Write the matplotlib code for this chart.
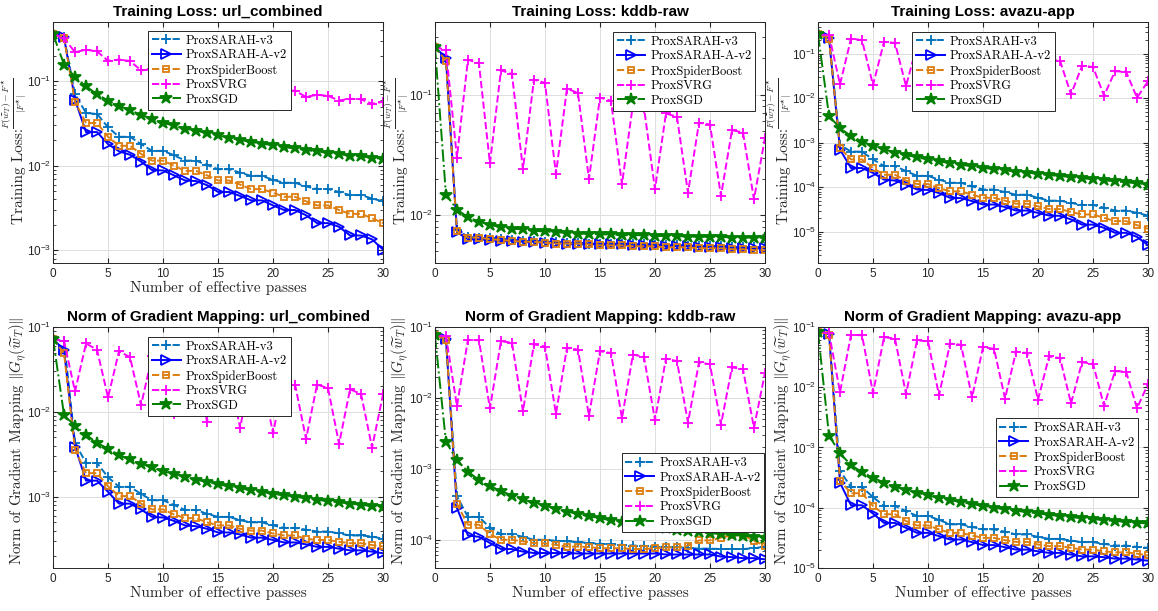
import numpy as np
import matplotlib
matplotlib.use("Agg")
import matplotlib.pyplot as plt

plt.rcParams['font.family'] = ['Liberation Sans', 'DejaVu Sans']
plt.rcParams['mathtext.fontset'] = 'cm'

#Number of effective passes (shared x axis)
passes = list(range(31))
methods = ["ProxSARAH-v3", "ProxSARAH-A-v2", "ProxSpiderBoost", "ProxSVRG", "ProxSGD"]

#Training loss: url_combined
url_loss_v3 = [0.36, 0.33, 0.07, 0.042, 0.041, 0.0285, 0.022, 0.022, 0.018, 0.015, 0.015, 0.0133, 0.0115, 0.0115, 0.0102, 0.0091,
               0.0091, 0.0083, 0.0076, 0.0076, 0.0068, 0.0063, 0.0063, 0.0057, 0.0053, 0.0053, 0.0049, 0.0045, 0.0045, 0.0041, 0.0038]
url_loss_av2 = [0.36, 0.33, 0.06, 0.025, 0.025, 0.018, 0.0148, 0.0135, 0.0112, 0.0089, 0.0088, 0.0077, 0.0067, 0.0066, 0.0059, 0.0049,
                0.0049, 0.0044, 0.0039, 0.0039, 0.0034, 0.0030, 0.0030, 0.0026, 0.0021, 0.0021, 0.0019, 0.0015, 0.0015, 0.00135, 0.00102]
url_loss_spider = [0.36, 0.32, 0.057, 0.032, 0.032, 0.022, 0.0172, 0.0172, 0.0138, 0.0115, 0.0115, 0.0100, 0.0087, 0.0087, 0.0077, 0.0067,
                   0.0067, 0.0060, 0.0053, 0.0053, 0.0048, 0.0043, 0.0043, 0.0038, 0.0034, 0.0034, 0.0030, 0.0027, 0.0027, 0.0024, 0.0021]
url_loss_svrg = [0.36, 0.32, 0.22, 0.235, 0.225, 0.174, 0.18, 0.173, 0.134, 0.138, 0.136, 0.115, 0.118, 0.117, 0.100, 0.103,
                 0.102, 0.090, 0.092, 0.091, 0.075, 0.078, 0.077, 0.065, 0.069, 0.067, 0.059, 0.062, 0.061, 0.054, 0.057]
url_loss_sgd = [0.36, 0.157, 0.112, 0.087, 0.070, 0.059, 0.051, 0.0455, 0.040, 0.036, 0.032, 0.030, 0.0275, 0.026, 0.0243, 0.0228,
                0.0214, 0.0202, 0.0191, 0.0183, 0.0174, 0.0166, 0.016, 0.0153, 0.0148, 0.0142, 0.0137, 0.0132, 0.0129, 0.0124, 0.0121]

#Training loss: kddb-raw
kddb_loss_v3 = [0.25, 0.2, 0.0075, 0.0066, 0.0065, 0.0064, 0.0063, 0.0062, 0.0061, 0.0061, 0.0060, 0.0060, 0.0059, 0.0059, 0.0058, 0.0058,
                0.0058, 0.0057, 0.0057, 0.0057, 0.0056, 0.0056, 0.0056, 0.0055, 0.0055, 0.0055, 0.0055, 0.0054, 0.0054, 0.0054, 0.0054]
kddb_loss_av2 = [0.25, 0.2, 0.0072, 0.0063, 0.0063, 0.0062, 0.0061, 0.0061, 0.0060, 0.0060, 0.0059, 0.0059, 0.0058, 0.0058, 0.0058, 0.0057,
                 0.0057, 0.0057, 0.0056, 0.0056, 0.0056, 0.0055, 0.0055, 0.0055, 0.0054, 0.0054, 0.0054, 0.0053, 0.0053, 0.0053, 0.0053]
kddb_loss_spider = [0.25, 0.19, 0.0073, 0.0065, 0.0065, 0.0063, 0.0062, 0.0061, 0.0060, 0.0060, 0.0059, 0.0058, 0.0058, 0.0058, 0.0057, 0.0056,
                    0.0056, 0.0056, 0.0055, 0.0055, 0.0055, 0.0054, 0.0054, 0.0054, 0.0053, 0.0053, 0.0053, 0.0052, 0.0052, 0.0051, 0.0051]
kddb_loss_svrg = [0.25, 0.233, 0.030, 0.195, 0.181, 0.0268, 0.159, 0.148, 0.024, 0.133, 0.125, 0.0219, 0.112, 0.103, 0.0199, 0.0944,
                  0.0886, 0.018, 0.083, 0.078, 0.0164, 0.0697, 0.0653, 0.0153, 0.0582, 0.0564, 0.0144, 0.0506, 0.0484, 0.0135, 0.0437]
kddb_loss_sgd = [0.25, 0.0148, 0.0111, 0.0096, 0.0088, 0.0083, 0.0079, 0.0077, 0.0076, 0.0074, 0.0073, 0.0072, 0.0071, 0.0070, 0.0070, 0.0069,
                 0.0069, 0.0068, 0.0068, 0.0068, 0.0067, 0.0067, 0.0067, 0.0066, 0.0066, 0.0066, 0.0066, 0.0065, 0.0065, 0.0065, 0.0065]

#Training loss: avazu-app
avazu_loss_v3 = [0.27, 0.22, 0.0009, 0.00063, 0.00063, 0.00042, 0.0003, 0.0003, 0.00023, 0.00018, 0.00018, 0.000148, 0.000126, 0.000126,
                 0.000105, 0.000089, 0.000089, 0.000078, 0.000068, 0.000068, 0.000058, 0.00005, 0.00005, 0.0000445, 0.00004, 0.00004,
                 0.0000347, 0.00003, 0.00003, 0.0000266, 0.0000232]
avazu_loss_av2 = [0.27, 0.22, 0.0007, 0.00027, 0.00027, 0.00021, 0.000148, 0.000141, 0.000115, 0.000089, 0.000087, 0.000074, 0.000058,
                  0.000057, 0.000049, 0.000041, 0.000041, 0.000036, 0.00003, 0.00003, 0.0000266, 0.0000232, 0.0000228, 0.000019,
                  0.0000145, 0.0000145, 0.0000123, 0.0000095, 0.0000095, 0.0000077, 0.000005]
avazu_loss_spider = [0.27, 0.21, 0.00076, 0.00042, 0.00042, 0.00027, 0.00019, 0.00019, 0.000141, 0.000118, 0.000118, 0.000096, 0.000081,
                     0.000081, 0.000068, 0.000058, 0.000058, 0.00005, 0.0000428, 0.0000428, 0.0000372, 0.0000324, 0.0000324, 0.0000279,
                     0.0000245, 0.0000245, 0.0000206, 0.0000174, 0.0000174, 0.0000141, 0.0000117]
avazu_loss_svrg = [0.27, 0.26, 0.0203, 0.216, 0.2, 0.0196, 0.182, 0.173, 0.0186, 0.155, 0.148, 0.0178, 0.132, 0.125, 0.0168, 0.112,
                   0.105, 0.0158, 0.095, 0.089, 0.0148, 0.076, 0.0686, 0.0121, 0.053, 0.05, 0.0113, 0.04, 0.039, 0.0102, 0.024]
avazu_loss_sgd = [0.27, 0.004, 0.0021, 0.00142, 0.00106, 0.00085, 0.00072, 0.0006, 0.00053, 0.00047, 0.00042, 0.00038, 0.00035, 0.00032,
                  0.000295, 0.00027, 0.000257, 0.00024, 0.000225, 0.000213, 0.0002, 0.000188, 0.000178, 0.00017, 0.00016, 0.00015,
                  0.000143, 0.000136, 0.000129, 0.000123, 0.000115]

#Gradient mapping norm: url_combined
url_grad_v3 = [0.073, 0.068, 0.0043, 0.0025, 0.0025, 0.0017, 0.00131, 0.00131, 0.00108, 0.00091, 0.00091, 0.0008, 0.0007, 0.0007, 0.00063,
               0.00058, 0.00058, 0.00053, 0.0005, 0.0005, 0.00046, 0.00043, 0.00043, 0.00041, 0.00039, 0.00039, 0.00037, 0.00035,
               0.00035, 0.00034, 0.00032]
url_grad_av2 = [0.073, 0.053, 0.0039, 0.00155, 0.00155, 0.00114, 0.00083, 0.00083, 0.00071, 0.00058, 0.00057, 0.00052, 0.00046, 0.00045,
                0.00042, 0.00038, 0.00038, 0.00036, 0.00033, 0.00033, 0.00031, 0.00029, 0.00029, 0.000275, 0.000257, 0.000257,
                0.000245, 0.000234, 0.000234, 0.000226, 0.000216]
url_grad_spider = [0.073, 0.049, 0.0036, 0.0019, 0.0019, 0.00133, 0.00102, 0.00102, 0.00083, 0.00071, 0.00071, 0.00062, 0.00056, 0.00056,
                   0.0005, 0.00046, 0.00046, 0.00042, 0.0004, 0.0004, 0.00037, 0.00035, 0.00035, 0.00032, 0.00031, 0.00031, 0.000295,
                   0.000284, 0.000284, 0.00027, 0.00026]
url_grad_svrg = [0.073, 0.068, 0.0174, 0.064, 0.054, 0.0148, 0.052, 0.044, 0.012, 0.045, 0.038, 0.0095, 0.04, 0.033, 0.0077, 0.034,
                 0.029, 0.0065, 0.028, 0.024, 0.0056, 0.025, 0.021, 0.0048, 0.021, 0.019, 0.0042, 0.0185, 0.0162, 0.0038, 0.0162]
url_grad_sgd = [0.073, 0.0092, 0.0068, 0.0054, 0.0043, 0.0037, 0.0031, 0.00275, 0.00245, 0.00222, 0.002, 0.00186, 0.00171, 0.00159,
                0.0015, 0.0014, 0.00133, 0.00126, 0.00119, 0.00114, 0.00108, 0.00104, 0.001, 0.00096, 0.00092, 0.00089, 0.00086,
                0.00083, 0.0008, 0.00078, 0.00076]

#Gradient mapping norm: kddb-raw
kddb_grad_v3 = [0.076, 0.066, 0.00041, 0.00021, 0.00021, 0.000148, 0.00012, 0.00012, 0.00011, 0.0001, 0.0001, 0.000097, 0.000095,
                0.000093, 0.00009, 0.000088, 0.000086, 0.000085, 0.000083, 0.000082, 0.00008, 0.000079, 0.000078, 0.000077, 0.000075,
                0.000075, 0.000074, 0.000074, 0.000074, 0.000076, 0.00008]
kddb_grad_av2 = [0.076, 0.068, 0.00028, 0.000115, 0.00011, 0.00009, 0.000074, 0.000074, 0.000068, 0.000065, 0.000065, 0.000065,
                 0.000065, 0.000064, 0.000064, 0.000064, 0.000064, 0.000064, 0.000064, 0.000064, 0.000064, 0.000062, 0.000062,
                 0.000062, 0.000062, 0.000062, 0.000058, 0.000057, 0.000055, 0.000055, 0.000053]
kddb_grad_spider = [0.076, 0.066, 0.00032, 0.000163, 0.000163, 0.00012, 0.0001, 0.0001, 0.000095, 0.00009, 0.000089, 0.000085, 0.00008,
                    0.00008, 0.000079, 0.000076, 0.000076, 0.000076, 0.000074, 0.000074, 0.000076, 0.000078, 0.000078, 0.000083,
                    0.000098, 0.000098, 0.000107, 0.000115, 0.000117, 0.000096, 0.000083]
kddb_grad_svrg = [0.076, 0.075, 0.0077, 0.066, 0.065, 0.0071, 0.063, 0.06, 0.0065, 0.057, 0.053, 0.006, 0.0507, 0.048, 0.0056, 0.0455,
                  0.043, 0.0052, 0.0408, 0.038, 0.0049, 0.0359, 0.033, 0.0045, 0.0316, 0.0299, 0.0042, 0.027, 0.0254, 0.0038, 0.0225]
kddb_grad_sgd = [0.076, 0.0024, 0.00133, 0.00091, 0.0007, 0.00057, 0.00049, 0.00042, 0.00037, 0.000335, 0.000304, 0.000273, 0.00025,
                 0.000232, 0.000213, 0.000202, 0.000187, 0.000178, 0.000166, 0.000159, 0.00015, 0.000146, 0.000138, 0.000134,
                 0.000128, 0.000124, 0.00012, 0.000116, 0.000114, 0.00011, 0.000107]

#Gradient mapping norm: avazu-app
avazu_grad_v3 = [0.083, 0.078, 0.00041, 0.00022, 0.00022, 0.00015, 0.000107, 0.000107, 0.000088, 0.000073, 0.000073, 0.000063,
                 0.000053, 0.000053, 0.000048, 0.0000437, 0.0000437, 0.00004, 0.000036, 0.000036, 0.0000329, 0.0000304, 0.0000304,
                 0.0000285, 0.0000269, 0.0000269, 0.0000251, 0.0000236, 0.0000236, 0.0000224, 0.0000216]
avazu_grad_av2 = [0.083, 0.078, 0.00026, 0.00011, 0.00011, 0.00008, 0.000056, 0.000056, 0.0000464, 0.0000383, 0.0000383, 0.0000338,
                  0.0000297, 0.0000297, 0.0000269, 0.000024, 0.000024, 0.0000221, 0.0000202, 0.0000202, 0.0000189, 0.0000178,
                  0.0000178, 0.0000167, 0.0000156, 0.0000156, 0.0000151, 0.0000143, 0.0000143, 0.0000138, 0.0000132]
avazu_grad_spider = [0.083, 0.075, 0.00028, 0.000174, 0.000174, 0.000107, 0.000078, 0.000078, 0.00006, 0.0000508, 0.0000508, 0.0000437,
                     0.0000383, 0.0000383, 0.0000346, 0.0000316, 0.0000316, 0.0000289, 0.0000271, 0.0000271, 0.0000245, 0.0000231,
                     0.0000231, 0.0000216, 0.0000202, 0.0000202, 0.0000189, 0.0000182, 0.0000182, 0.0000173, 0.0000162]
avazu_grad_svrg = [0.083, 0.08, 0.0083, 0.074, 0.073, 0.008, 0.068, 0.064, 0.0077, 0.06, 0.058, 0.0073, 0.053, 0.0507, 0.0068, 0.046,
                   0.0435, 0.0065, 0.039, 0.037, 0.0062, 0.0324, 0.0305, 0.0054, 0.026, 0.0245, 0.0049, 0.0185, 0.0182, 0.0045, 0.0114]
avazu_grad_sgd = [0.083, 0.00158, 0.0008, 0.00051, 0.00039, 0.000316, 0.000261, 0.000224, 0.000197, 0.000178, 0.00016, 0.000145,
                  0.000134, 0.000124, 0.000115, 0.000107, 0.0001, 0.0000938, 0.0000891, 0.0000847, 0.0000805, 0.0000765, 0.0000725,
                  0.0000698, 0.0000672, 0.0000647, 0.0000622, 0.0000599, 0.0000585, 0.0000563, 0.0000548]

#Line style of each method (colour, line style, marker, marker fill)
styles = [
    dict(color="#0072BD", ls="--", marker="+", ms=7, mfc="none"),
    dict(color="#0000FF", ls="-", marker=">", ms=6.5, mfc="none"),
    dict(color="#DD7E10", ls="--", marker="s", ms=5, mfc="none"),
    dict(color="#FF00FF", ls="--", marker="+", ms=7, mfc="none"),
    dict(color="#007F00", ls="-.", marker="*", ms=9, mfc="#007F00"),
]

loss_frac = r"$\frac{F(\widetilde{w}_T)-F^{\star}}{|F^{\star}|}$"
grad_label = r"Norm of Gradient Mapping $\|G_{\eta}(\widetilde{w}_T)\|$"

#Draws one panel
def draw_panel(ax, series, title, ylim, legend_pos, loss=True, xlabel=True):
    for s, st, name in zip(series, styles, methods):
        ax.plot(passes, s, color = st["color"], ls = st["ls"], lw = 1.4, marker = st["marker"],
                ms = st["ms"], mfc = st["mfc"], mec = st["color"], mew = 1.3, label = name)
    ax.set_yscale("log")
    ax.set_xlim(0, 30)
    ax.set_ylim(*ylim)
    ax.set_xticks([0, 5, 10, 15, 20, 25, 30])
    ax.grid(True, which = "major", color = "#dedede", lw = 0.7)
    ax.set_axisbelow(True)
    ax.tick_params(which = "both", direction = "in", top = True, right = True, colors = "#262626", labelsize = 8.5)
    ax.tick_params(which = "major", length = 3.5)
    ax.tick_params(which = "minor", length = 2)
    ax.tick_params(axis = "y", which = "both", pad = 1.2)
    for sp in ax.spines.values():
        sp.set_color("#262626")
        sp.set_linewidth(0.7)
    ax.set_title(title, fontsize = 11, fontweight = "bold", pad = 4)

    #y label: text plus a smaller fraction for the loss panels, kept clear of the tick labels
    if loss:
        ax.text(-0.103, 0.361, "Training Loss:", transform = ax.transAxes, rotation = 90, ha = "center",
                va = "center", fontsize = 11, family = "cmr10", color = "#262626")
        ax.text(-0.1158, 0.661, loss_frac, transform = ax.transAxes, rotation = 90, ha = "center",
                va = "center", fontsize = 10, family = "cmr10", color = "#262626")
    else:
        ax.set_ylabel(grad_label, fontsize = 10.8, family = "cmr10", color = "#262626", va = "center")
        ax.yaxis.set_label_coords(-0.1045, 0.53)

    if xlabel:
        ax.set_xlabel("Number of effective passes", fontsize = 11, family = "cmr10", labelpad = 1, color = "#262626")
    leg = ax.legend(loc = "upper left", bbox_to_anchor = legend_pos, prop = {"family": "cmr10", "size": 9},
                    numpoints = 1, handlelength = 2.3, handletextpad = 0.4, labelspacing = 0.2,
                    borderpad = 0.3, borderaxespad = 0, fancybox = False, framealpha = 1)
    leg.get_frame().set_edgecolor("#262626")
    leg.get_frame().set_linewidth(0.7)


fig = plt.figure(figsize = (11.58, 6.11), dpi = 100)

lefts = [0.0458, 0.3756, 0.7064]
width = 0.285
height = 0.3944
top_bottom = 0.5696
low_bottom = 0.0704

ax1 = fig.add_axes([lefts[0], top_bottom, width, height])
draw_panel(ax1, [url_loss_v3, url_loss_av2, url_loss_spider, url_loss_svrg, url_loss_sgd],
           "Training Loss: url_combined", (7.1e-4, 0.5), (0.288, 0.963))
ax2 = fig.add_axes([lefts[1], top_bottom, width, height])
draw_panel(ax2, [kddb_loss_v3, kddb_loss_av2, kddb_loss_spider, kddb_loss_svrg, kddb_loss_sgd],
           "Training Loss: kddb-raw", (0.004, 0.4), (0.539, 0.959), xlabel = False)
ax3 = fig.add_axes([lefts[2], top_bottom, width, height])
draw_panel(ax3, [avazu_loss_v3, avazu_loss_av2, avazu_loss_spider, avazu_loss_svrg, avazu_loss_sgd],
           "Training Loss: avazu-app", (2e-6, 0.51), (0.286, 0.959), xlabel = False)

ax4 = fig.add_axes([lefts[0], low_bottom, width, height])
draw_panel(ax4, [url_grad_v3, url_grad_av2, url_grad_spider, url_grad_svrg, url_grad_sgd],
           "Norm of Gradient Mapping: url_combined", (1.45e-4, 0.1), (0.288, 0.959), loss = False)
ax5 = fig.add_axes([lefts[1], low_bottom, width, height])
draw_panel(ax5, [kddb_grad_v3, kddb_grad_av2, kddb_grad_spider, kddb_grad_svrg, kddb_grad_sgd],
           "Norm of Gradient Mapping: kddb-raw", (4e-5, 0.1), (0.566, 0.477), loss = False)
ax6 = fig.add_axes([lefts[2], low_bottom, width, height])
draw_panel(ax6, [avazu_grad_v3, avazu_grad_av2, avazu_grad_spider, avazu_grad_svrg, avazu_grad_sgd],
           "Norm of Gradient Mapping: avazu-app", (1e-5, 0.1), (0.538, 0.622), loss = False)

plt.savefig("out.png", dpi = 100)
